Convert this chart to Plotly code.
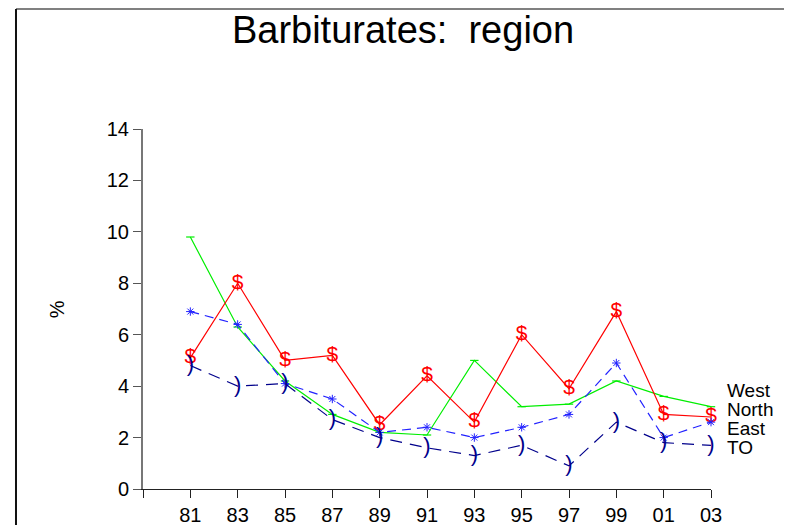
import plotly.graph_objects as go

years = [1981, 1983, 1985, 1987, 1989, 1991, 1993, 1995, 1997, 1999, 2001, 2003]
tick_vals = [1979] + years
tick_text = [""] + ["81", "83", "85", "87", "89", "91", "93", "95", "97", "99", "01", "03"]

red_dollar = [5.1, 8.0, 5.0, 5.2, 2.5, 4.4, 2.6, 6.0, 3.9, 6.9, 2.9, 2.8]
green_dash = [9.8, 6.3, 4.2, 2.9, 2.2, 2.1, 5.0, 3.2, 3.3, 4.2, 3.6, 3.2]
blue_star = [6.9, 6.4, 4.1, 3.5, 2.2, 2.4, 2.0, 2.4, 2.9, 4.9, 2.0, 2.6]
navy_paren = [4.8, 4.0, 4.1, 2.7, 2.0, 1.6, 1.3, 1.7, 0.9, 2.6, 1.8, 1.7]

legend_labels = ["West", "North", "East", "TO"]
legend_y = [3.85, 3.11, 2.37, 1.63]

FONT = "Liberation Sans, Arial, sans-serif"

fig = go.Figure()

fig.add_trace(go.Scatter(
    x=years, y=green_dash, mode="lines+markers",
    line=dict(color="#00ee00", width=1.2),
    marker=dict(symbol="line-ew-open", size=6, line=dict(color="#00ee00", width=1.2)),
    showlegend=False, cliponaxis=False))

fig.add_trace(go.Scatter(
    x=years, y=red_dollar, mode="lines+text",
    line=dict(color="#ff0000", width=1.2),
    text=["$"] * len(years), textposition="middle center",
    textfont=dict(color="#ff0000", size=21, family=FONT),
    showlegend=False, cliponaxis=False))

fig.add_trace(go.Scatter(
    x=years, y=blue_star, mode="lines+markers",
    line=dict(color="#2222ff", width=1.2, dash="9px,6px"),
    marker=dict(symbol="asterisk-open", size=7, line=dict(color="#2222ff", width=1)),
    showlegend=False, cliponaxis=False))

fig.add_trace(go.Scatter(
    x=years, y=navy_paren, mode="lines+text",
    line=dict(color="#00008b", width=1.2, dash="12px,8px"),
    text=[")"] * len(years), textposition="middle center",
    textfont=dict(color="#00008b", size=22, family=FONT),
    showlegend=False, cliponaxis=False))

for lab, yv in zip(legend_labels, legend_y):
    fig.add_annotation(x=1.0247, xref="paper", y=yv, yref="y", text=lab,
                       showarrow=False, xanchor="left", yanchor="middle",
                       font=dict(size=19, color="black", family=FONT))

fig.add_annotation(x=-0.151, xref="paper", y=0.5, yref="paper", text="%",
                   textangle=-90, showarrow=False, xanchor="center", yanchor="middle",
                   font=dict(size=20, color="black", family=FONT))

# outer frame (top, left, right)
fig.add_shape(type="line", xref="paper", yref="paper", x0=-0.2236, x1=1.139, y0=1.333, y1=1.333,
              line=dict(color="#808080", width=2))
fig.add_shape(type="line", xref="paper", yref="paper", x0=-0.2236, x1=-0.2236, y0=1.333, y1=-0.12,
              line=dict(color="#111111", width=2))
fig.add_shape(type="line", xref="paper", yref="paper", x0=1.139, x1=1.139, y0=1.333, y1=-0.12,
              line=dict(color="#808080", width=2))

fig.update_layout(
    width=784, height=517,
    margin=dict(l=135, r=81, t=121, b=36),
    paper_bgcolor="white", plot_bgcolor="white",
    font=dict(family=FONT, color="black", size=20),
    title=dict(text="Barbiturates:  region", x=395 / 784, xref="container", xanchor="center",
               y=1 - 22 / 517, yref="container", yanchor="middle",
               font=dict(size=38, family=FONT, color="black"), automargin=False),
    xaxis=dict(range=[1979, 2003], tickvals=tick_vals, ticktext=tick_text,
               showline=True, linecolor="#222222", linewidth=1,
               ticks="outside", ticklen=8, tickcolor="#222222", automargin=False,
               showgrid=False, zeroline=False, tickfont=dict(size=20)),
    yaxis=dict(range=[0, 14], tickvals=[0, 2, 4, 6, 8, 10, 12, 14],
               showline=True, linecolor="#777777", linewidth=2,
               ticks="outside", ticklen=8, tickcolor="#555555", automargin=False,
               showgrid=False, zeroline=False, tickfont=dict(size=20)),
)

fig.write_html("out.html")
